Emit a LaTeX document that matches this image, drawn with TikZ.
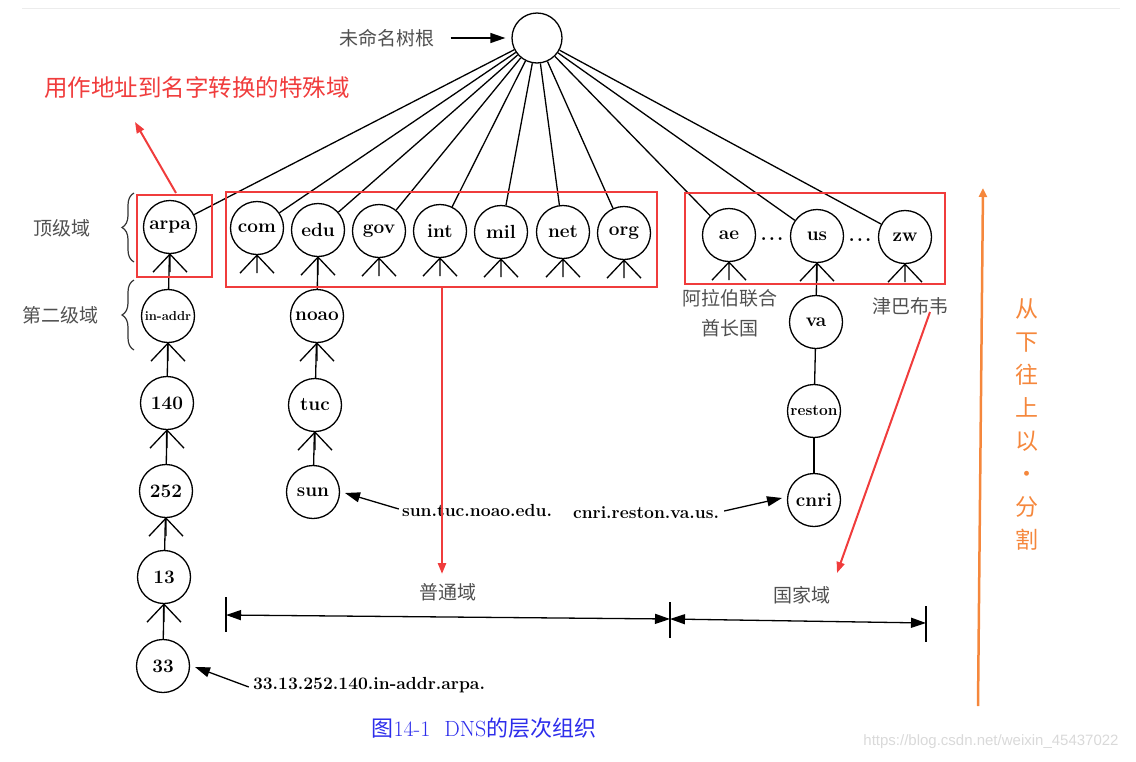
\documentclass[tikz,border=0pt]{standalone}
\usepackage{fontspec}
\newfontfamily\cjk{Noto Sans CJK SC}
\newfontfamily\wmfont{Liberation Sans}
\usetikzlibrary{arrows.meta,decorations.pathreplacing}
\definecolor{boxred}{RGB}{240,60,60}
\definecolor{graytxt}{RGB}{80,80,80}
\definecolor{orangeC}{RGB}{245,135,60}
\definecolor{capblue}{RGB}{45,45,235}
\begin{document}
\begin{tikzpicture}[x=1pt,y=-1pt,
  dn/.style={circle,draw,line width=1.3pt,minimum size=53pt,inner sep=0pt,font=\bfseries\fontsize{19}{19}\selectfont},
  edge/.style={line width=1.3pt},
  lbl/.style={font=\cjk\fontsize{19}{19}\selectfont,text=graytxt,inner sep=0pt},
  nametxt/.style={font=\bfseries\fontsize{17.5}{17.5}\selectfont,inner sep=0pt},
  blkarrow/.style={line width=1.3pt,-{Triangle[length=15pt,width=10pt]}},
  dimarrow/.style={line width=1.3pt,{Triangle[length=15pt,width=10pt]}-{Triangle[length=15pt,width=10pt]}},
  redbox/.style={draw=boxred,line width=2.8pt},
  redarrow/.style={draw=boxred,line width=2pt,-{Triangle[length=11pt,width=8pt]}},
  bracestyle/.style={decorate,decoration={brace,amplitude=12pt},line width=1.2pt,draw=black!80}]
\useasboundingbox (0,0) rectangle (1136,761);
\draw[gray!15,line width=1pt] (22,8) -- (1120,8);

% root
\node[dn,minimum size=50pt] (root) at (537,38) {};
\node[lbl] (rootlbl) at (387,38) {未命名树根};
\draw[blkarrow,shorten >=6pt] ([xshift=16pt]rootlbl.east) -- (root.west);

% top level
\node[dn] (arpa) at (170,227) {arpa};
\node[dn] (com) at (257,228) {com};
\node[dn] (edu) at (318,230) {edu};
\node[dn] (gov) at (379,231) {gov};
\node[dn] (int) at (440,231) {int};
\node[dn] (mil) at (501,232) {mil};
\node[dn] (net) at (563,232) {net};
\node[dn] (org) at (624,233) {org};
\node[dn] (ae) at (729,235) {ae};
\node[dn] (us) at (817,236) {us};
\node[dn] (zw) at (905,237) {zw};
\node[font=\bfseries\fontsize{20}{20}\selectfont,inner sep=0pt,anchor=base] (dots1) at (772,240) {.\hspace{2pt}.\hspace{2pt}.};
\node[font=\bfseries\fontsize{20}{20}\selectfont,inner sep=0pt,anchor=base] (dots2) at (860,241) {.\hspace{2pt}.\hspace{2pt}.};

\foreach \n in {arpa,com,edu,gov,int,mil,net,org,ae,us,zw}
  \draw[edge] (root) -- (\n);

% second level and below
\node[dn,font=\bfseries\fontsize{13}{13}\selectfont] (inaddr) at (168,316) {in-addr};
\node[dn] (n140) at (167,403) {140};
\node[dn] (n252) at (166,491) {252};
\node[dn] (n13) at (164,577) {13};
\node[dn] (n33) at (163,666) {33};
\node[dn] (noao) at (317,316) {noao};
\node[dn] (tuc) at (315,405) {tuc};
\node[dn] (sun) at (313,492) {sun};
\node[dn] (va) at (816,322) {va};
\node[dn,font=\bfseries\fontsize{15.5}{15.5}\selectfont] (reston) at (814,411) {reston};
\node[dn] (cnri) at (814,500) {cnri};

% crow's feet
\foreach \n in {arpa,com,edu,gov,int,mil,net,org,ae,us,zw,inaddr,n140,n252,n13,noao,tuc}
  \draw[edge] (\n.south) -- ++(-17,18) (\n.south) -- ++(17,18) (\n.south) -- ++(0,18);

\draw[edge] (arpa) -- (inaddr);
\draw[edge] (inaddr) -- (n140);
\draw[edge] (n140) -- (n252);
\draw[edge] (n252) -- (n13);
\draw[edge] (n13) -- (n33);
\draw[edge] (edu) -- (noao);
\draw[edge] (noao) -- (tuc);
\draw[edge] (tuc) -- (sun);
\draw[edge] (us) -- (va);
\draw[edge] (va) -- (reston);
\draw[edge] (reston) -- (cnri);

% left labels and braces
\node[lbl] (tld) at (62,228) {顶级域};
\node[lbl] (sld) at (61,315) {第二级域};
\draw[bracestyle] (134,262) -- (134,193);
\draw[bracestyle] (134,350) -- (134,280);

% country labels
\node[lbl] (uae1) at (730,298) {阿拉伯联合};
\node[lbl] (uae2) at (730,328) {酋长国};
\node[lbl] (zwlbl) at (910,306) {津巴布韦};

% names with arrows
\node[nametxt] (sunlbl) at (477,510) {sun.tuc.noao.edu.};
\coordinate (suntip) at (345,493);
\draw[blkarrow] ([xshift=-3pt,yshift=1pt]sunlbl.west) -- (suntip);
\node[nametxt] (cnrilbl) at (646,513) {cnri.reston.va.us.};
\coordinate (cnritip) at (782,498);
\draw[blkarrow] ([xshift=5pt,yshift=2pt]cnrilbl.east) -- (cnritip);
\node[nametxt] (arpalbl) at (369,685) {33.13.252.140.in-addr.arpa.};
\coordinate (n33tip) at (195,667);
\draw[blkarrow] ([xshift=-4pt,yshift=-2pt]arpalbl.west) -- (n33tip);

% red boxes
\draw[redbox] (137,195) rectangle (212,277);
\draw[redbox] (226,192) rectangle (657,287);
\draw[redbox] (685,193) rectangle (945,284);

% red text and arrows
\node[font=\cjk\fontsize{23.5}{23.5}\selectfont,text=boxred,inner sep=0pt] (special) at (197,88) {用作地址到名字转换的特殊域};
\coordinate (ra1) at (176,193);
\coordinate (ra2) at (135,122);
\draw[redarrow] (ra1) -- (ra2);
\coordinate (rb1) at (442,288);
\coordinate (rb2) at (442,574);
\draw[redarrow,line width=2.5pt] (rb1) -- (rb2);
\coordinate (rc1) at (930,312);
\coordinate (rc2) at (837,573);
\draw[redarrow] (rc1) -- (rc2);

% dimension lines
\node[lbl] (generic) at (448,592) {普通域};
\node[lbl] (country) at (802,595) {国家域};
\coordinate (dl) at (226,615);
\coordinate (dm) at (670,619);
\coordinate (dr) at (926,623);
\coordinate (dlT) at (226,597); \coordinate (dlB) at (226,632);
\coordinate (dmT) at (670,602); \coordinate (dmB) at (670,638);
\coordinate (drT) at (926,606); \coordinate (drB) at (926,642);
\draw[edge] (dlT) -- (dlB);
\draw[edge] (dmT) -- (dmB);
\draw[edge] (drT) -- (drB);
\draw[dimarrow] (dl) -- (dm);
\draw[dimarrow] (dm) -- (dr);

% orange arrow and text
\coordinate (o1) at (978,706);
\coordinate (o2) at (983,188);
\draw[draw=orangeC,line width=2.5pt,-{Triangle[length=9pt,width=8pt]}] (o1) -- (o2);
\node[font=\cjk\fontsize{23}{33}\selectfont,text=orangeC,align=center,inner sep=0pt] (orangetxt) at (1027,424) {从\\下\\往\\上\\以\\·\\分\\割};

% caption
\node[text=capblue,font=\fontsize{22}{22}\selectfont,inner sep=0pt] (caption) at (484,728) {{\cjk 图}14-1\hspace{14pt}DNS{\cjk 的层次组织}};

% watermark
\node[text=gray!30,font=\wmfont\fontsize{15}{15}\selectfont,inner sep=0pt] (wm) at (991,742) {https://blog.csdn.net/weixin\_45437022};
\end{tikzpicture}
\end{document}
